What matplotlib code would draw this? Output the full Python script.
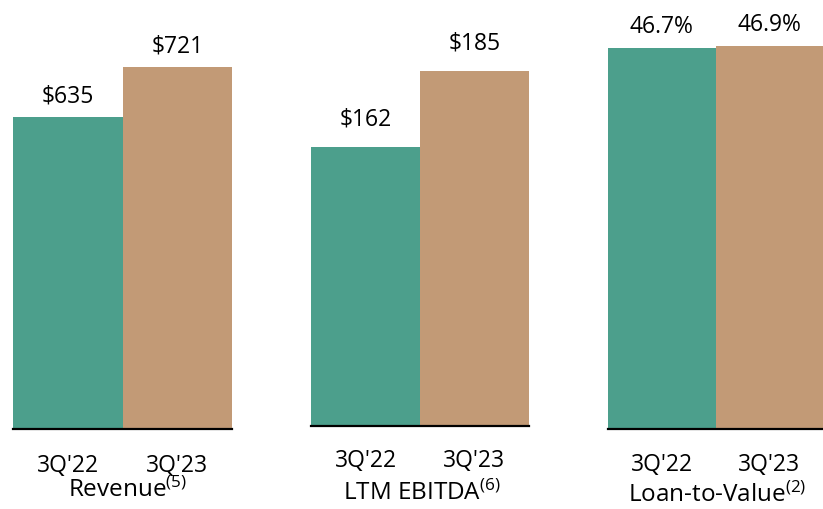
import matplotlib
matplotlib.use("Agg")
import matplotlib.pyplot as plt
from matplotlib.transforms import blended_transform_factory

plt.rcParams['font.family'] = ['Open Sans', 'DejaVu Sans']
plt.rcParams['mathtext.default'] = 'regular'

categories = ["3Q'22", "3Q'23"]
panel_titles = ["Revenue", "LTM EBITDA", "Loan-to-Value"]
footnotes = ["5", "6", "2"]
revenue = [635, 721]
ebitda = [162, 185]
ltv = [46.7, 46.9]
value_labels = [["$635", "$721"], ["$162", "$185"], ["46.7%", "46.9%"]]

colors = ["#4C9F8C", "#C29A76"]
W, H = 823, 509
fig = plt.figure(figsize=(W / 100, H / 100), dpi=100)

# (left px, right px, baseline px, ylim, label offset px, title baseline px, tick baseline px, title center px)
layout = [
    (13, 232, 428.5, (99, 836), 14, 497, 472, 128),
    (311, 529, 425.5, (77.7, 206.5), 22, 500, 467, 422),
    (608, 823, 428.5, (0, 52.54), 15, 502, 471, 717),
]
series = [revenue, ebitda, ltv]

for (l, r, base, ylim, off, tb, kb, tc), vals, labs, title, fn in zip(layout, series, value_labels, panel_titles, footnotes):
    ax = fig.add_axes([l / W, (H - base) / H, (r - l) / W, base / H])
    ax.bar(range(len(vals)), vals, width=1.0, color=colors, edgecolor='none')
    ax.set_xlim(-0.5, len(vals) - 0.5)
    ax.set_ylim(*ylim)
    for s in ['top', 'right', 'left']:
        ax.spines[s].set_visible(False)
    ax.spines['bottom'].set_linewidth(1.6)
    ax.spines['bottom'].set_color('black')
    ax.set_yticks([])
    ax.set_xticks(range(len(vals)))
    ax.set_xticklabels([])
    ax.tick_params(axis='x', length=0)
    tr = blended_transform_factory(ax.transData, fig.transFigure)
    for i, c in enumerate(categories):
        ax.text(i, (H - kb) / H, c, transform=tr, clip_on=False,
                ha='center', va='baseline', fontsize=16.5)
    for i, (v, t) in enumerate(zip(vals, labs)):
        ax.annotate(t, (i, v), xytext=(0, off * 0.72), textcoords='offset points',
                    ha='center', va='baseline', fontsize=16.5)
    fig.text(tc / W, (H - tb) / H, title + r"$^{(" + fn + ")}$",
             ha='center', va='baseline', fontsize=17.5)

fig.savefig("out.png", dpi=100)
